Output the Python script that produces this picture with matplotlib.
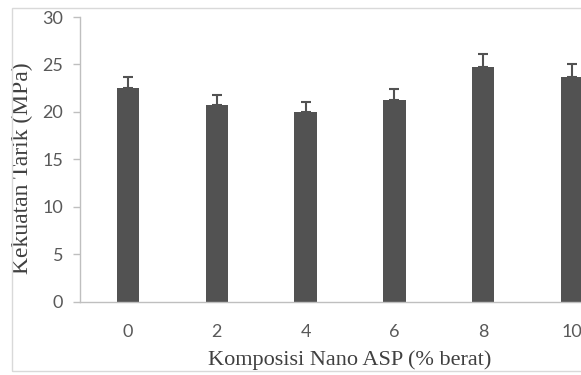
import numpy as np
import matplotlib
matplotlib.use("Agg")
import matplotlib.pyplot as plt
from matplotlib.patches import Rectangle

# tensile strength vs nano ASP loading
komposisi = ["0", "2", "4", "6", "8", "10"]
kekuatan = [22.5, 20.7, 20.0, 21.3, 24.7, 23.7]
galat = [1.15, 1.1, 1.05, 1.1, 1.4, 1.3]

bar_color = "#525252"
tick_color = "#595959"
axis_color = "#bfbfbf"

fig = plt.figure(figsize=(5.81, 3.75), dpi=100)
ax = fig.add_axes([80 / 581, 73.5 / 375, 540 / 581, 284.5 / 375])

x = np.arange(len(komposisi))
ax.bar(x, kekuatan, width=0.25, color=bar_color, zorder=2)
ax.errorbar(x, kekuatan, yerr=[np.zeros(len(galat)), galat], fmt="none",
            ecolor=bar_color, elinewidth=1.5, capsize=3.5, capthick=1.5, zorder=3)

ax.set_xlim(-0.54, 5.54)
ax.set_ylim(0, 30)
ax.set_yticks(range(0, 31, 5))
ax.set_xticks(x)
ax.set_xticklabels(komposisi)

for s in ["top", "right"]:
    ax.spines[s].set_visible(False)
for s in ["left", "bottom"]:
    ax.spines[s].set_color(axis_color)
    ax.spines[s].set_linewidth(1)

ax.tick_params(axis="y", length=5, width=1, color=axis_color, labelcolor=tick_color,
               labelsize=13, pad=7)
ax.tick_params(axis="x", length=0, labelcolor=tick_color, labelsize=13, pad=16)
for lbl in ax.get_xticklabels() + ax.get_yticklabels():
    lbl.set_fontfamily("Lato")

ax.set_ylabel("Kekuatan Tarik (MPa)", family="Liberation Serif", fontsize=17,
              color="#404040")
ax.set_xlabel("Komposisi Nano ASP (% berat)", family="Liberation Serif", fontsize=16,
              color="#404040")
ax.yaxis.set_label_coords(-47 / 540, 0.5 - 9 / 284.5)
ax.xaxis.set_label_coords(0.5, -49 / 284.5)

# chart area border
fig.patches.append(Rectangle((12 / 581, 4 / 375), 1.0, 363 / 375, transform=fig.transFigure,
                             fill=False, edgecolor="#d9d9d9", linewidth=1))

fig.savefig("out.png", dpi=100)
